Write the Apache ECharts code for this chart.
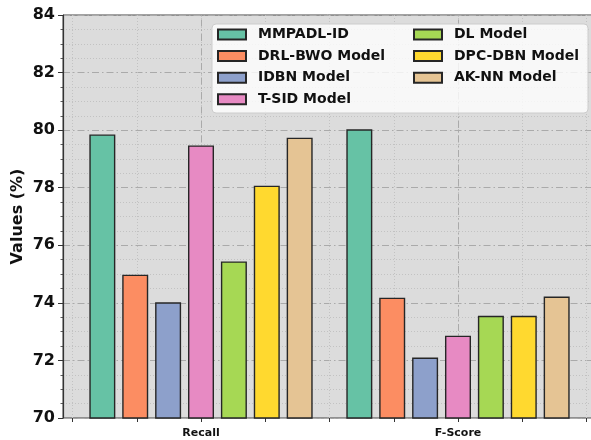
<!DOCTYPE html>
<html>
<head>
<meta charset="utf-8">
<script src="https://cdn.jsdelivr.net/npm/echarts@6/dist/echarts.min.js"></script>
<style>
  html, body { margin: 0; padding: 0; background: #ffffff; }
  #chart { width: 591px; height: 440px; }
</style>
</head>
<body>
<div id="chart"></div>
<script>
// Metric groups, placed at x = 0, 1, ... on a numeric axis
const categories = ['Recall', 'F-Score'];

// Model names (legend order) and their scores per metric
const modelNames = [
  'MMPADL-ID', 'DRL-BWO Model', 'IDBN Model', 'T-SID Model',
  'DL Model', 'DPC-DBN Model', 'AK-NN Model'
];
const mmpadlId  = [79.85, 80.03];
const drlBwo    = [74.98, 74.18];
const idbn      = [74.02, 72.10];
const tSid      = [79.47, 72.86];
const dlModel   = [75.44, 73.55];
const dpcDbn    = [78.07, 73.55];
const akNn      = [79.74, 74.22];
const seriesValues = [mmpadlId, drlBwo, idbn, tSid, dlModel, dpcDbn, akNn];

// Y axis range and tick step
const yMin = 70, yMax = 84, yStep = 2;

const palette = ['#66c2a5', '#fc8d62', '#8da0cb', '#e78ac3', '#a6d854', '#ffd92f', '#e5c494'];

const chart = echarts.init(document.getElementById('chart'), null, { renderer: 'canvas' });

const FONT = 'DejaVu Sans';
const axisDark = '#333333';

const series = modelNames.map((name, i) => ({
  name: name,
  type: 'bar',
  xAxisIndex: 0,
  yAxisIndex: 0,
  barWidth: 26,
  barGap: '26.5%',
  z: 3,
  itemStyle: { color: palette[i], borderColor: '#262626', borderWidth: 1.4 },
  data: seriesValues[i].map((v, k) => [k, v])
}));

// dash-dot vertical grid lines at each metric position
series.push({
  name: 'metric-grid',
  type: 'line',
  xAxisIndex: 0,
  yAxisIndex: 0,
  data: [],
  z: 1,
  silent: true,
  markLine: {
    silent: true,
    symbol: 'none',
    z: 1,
    animation: false,
    label: { show: false },
    lineStyle: { color: '#aaaaaa', width: 1, type: [7, 3, 1.5, 3] },
    data: categories.map((c, k) => ({ xAxis: k }))
  }
});

const option = {
  animation: false,
  backgroundColor: '#ffffff',
  grid: [
    { // main plotting area (extends slightly past the right edge)
      left: 63, width: 533, top: 15, bottom: 22,
      outerBoundsMode: 'none', containLabel: false,
      show: true, backgroundColor: '#dcdcdc',
      borderColor: '#444444', borderWidth: 1
    },
    { // tick grid spanning x = -0.5 .. 1.5
      left: 72.5, width: 514, top: 15, bottom: 22,
      outerBoundsMode: 'none', containLabel: false,
      show: false
    }
  ],
  xAxis: [
    {
      type: 'value', gridIndex: 0,
      min: -0.537, max: 1.537,
      axisLine: { show: false, onZero: false },
      axisTick: { show: false },
      axisLabel: { show: false },
      splitLine: { show: false }
    },
    {
      type: 'value', gridIndex: 1,
      min: -0.5, max: 1.5, interval: 0.25,
      axisLine: { show: false, onZero: false },
      axisTick: { show: true, length: 4, lineStyle: { color: axisDark, width: 1 } },
      axisLabel: {
        show: true, margin: 10,
        fontFamily: FONT, fontWeight: 'bold', fontSize: 11, color: '#111111',
        formatter: (v) => {
          const k = Math.round(v * 1000) / 1000;
          return Number.isInteger(k) && categories[k] !== undefined ? categories[k] : '';
        }
      },
      splitLine: { show: true, lineStyle: { color: '#c2c2c2', width: 1, type: [1, 2] } }
    }
  ],
  yAxis: [
    {
      type: 'value', gridIndex: 0,
      min: yMin, max: yMax, interval: yStep,
      name: 'Values (%)',
      nameLocation: 'middle', nameRotate: 90, nameGap: 37.5,
      nameMoveOverlap: false,
      nameTextStyle: { fontFamily: FONT, fontWeight: 'bold', fontSize: 16, color: '#111111' },
      axisLine: { show: true, onZero: false, lineStyle: { color: axisDark, width: 1.2 } },
      axisTick: { show: true, length: 5, lineStyle: { color: axisDark, width: 1 } },
      minorTick: { show: true, splitNumber: 4, length: 2.5, lineStyle: { color: axisDark, width: 0.8 } },
      axisLabel: { margin: 8, fontFamily: FONT, fontWeight: 'bold', fontSize: 16, color: '#111111' },
      splitLine: { show: true, lineStyle: { color: '#aaaaaa', width: 1, type: [7, 3, 1.5, 3] } },
      minorSplitLine: { show: true, lineStyle: { color: '#c2c2c2', width: 1, type: [1, 2] } }
    },
    {
      type: 'value', gridIndex: 1,
      min: yMin, max: yMax, interval: yStep,
      show: false
    }
  ],
  graphic: [
    {
      type: 'rect', z: 5, silent: true,
      shape: { x: 212, y: 24, width: 376, height: 89, r: 4 },
      style: { fill: 'rgba(255,255,255,0.8)', stroke: '#cccccc', lineWidth: 1 }
    }
  ],
  legend: [
    {
      orient: 'vertical', left: 217, top: 26.5, padding: 0,
      itemWidth: 28, itemHeight: 10, itemGap: 5.6, z: 6,
      icon: 'rect',
      data: modelNames.slice(0, 4),
      textStyle: { fontFamily: FONT, fontWeight: 'bold', fontSize: 14, color: '#111111', lineHeight: 16, padding: [0, 0, 0, 7] }
    },
    {
      orient: 'vertical', left: 413, top: 26.5, padding: 0,
      itemWidth: 28, itemHeight: 10, itemGap: 5.6, z: 6,
      icon: 'rect',
      data: modelNames.slice(4),
      textStyle: { fontFamily: FONT, fontWeight: 'bold', fontSize: 14, color: '#111111', lineHeight: 16, padding: [0, 0, 0, 7] }
    }
  ],
  series: series
};

chart.setOption(option);
</script>
</body>
</html>
